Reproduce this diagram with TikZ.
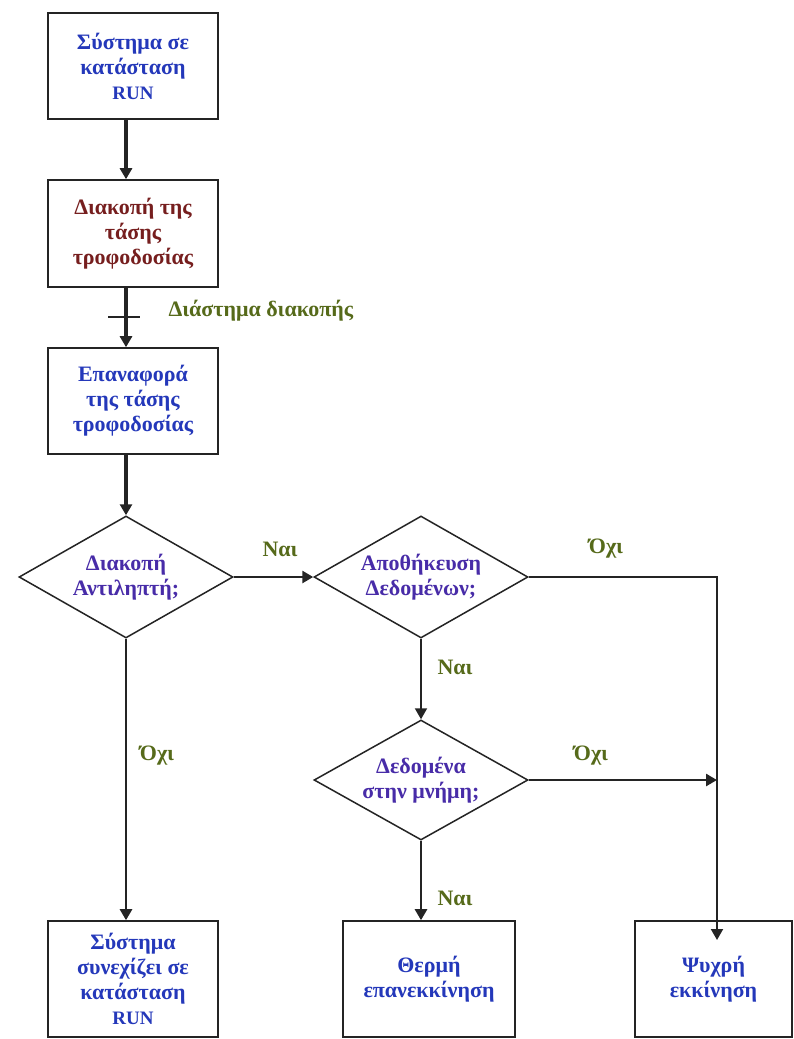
\documentclass[tikz,border=0pt]{standalone}
\usepackage{fontspec}
\setmainfont{Liberation Serif}
\usetikzlibrary{shapes.geometric,arrows.meta}
\definecolor{boxblue}{RGB}{36,56,186}
\definecolor{boxred}{RGB}{118,30,30}
\definecolor{qpurple}{RGB}{72,44,168}
\definecolor{lblgreen}{RGB}{86,106,26}
\definecolor{edge}{RGB}{36,36,36}
\newcommand{\latin}[1]{{\fontsize{19}{25}\selectfont #1}}
\begin{document}
\begin{tikzpicture}[x=1pt,y=-1pt,
  txt/.style={font=\bfseries\fontsize{22}{25}\selectfont,align=center},
  stepbox/.style={txt,draw=edge,line width=1.6pt,minimum width=170pt,inner sep=0pt,text=boxblue},
  dia/.style={draw=edge,line width=1.5pt,diamond,minimum width=214pt,minimum height=122pt,inner sep=0pt},
  qtext/.style={txt,text=qpurple},
  lbl/.style={font=\bfseries\fontsize{22}{25}\selectfont,text=lblgreen},
  tip/.style={-{Triangle[length=11pt,width=12pt]}},
  heavy/.style={draw=edge,line width=3.2pt},
  medium/.style={draw=edge,line width=2.6pt},
  light/.style={draw=edge,line width=1.9pt}]
\useasboundingbox[fill=white] (0,0) rectangle (794,1039);

% process boxes
\node[stepbox,minimum height=106pt] (run) at (133,66) {Σύστημα σε\\κατάσταση\\\latin{RUN}};
\node[stepbox,minimum height=107pt,text=boxred] (off) at (133,233.5) {Διακοπή της\\τάσης\\τροφοδοσίας};
\node[stepbox,minimum height=106pt] (on) at (133,401) {Επαναφορά\\της τάσης\\τροφοδοσίας};

% decisions
\node[dia] (d1) at (126,577) {};
\node[qtext] (d1t) at (d1) {Διακοπή\\Αντιληπτή;};
\node[dia] (d2) at (421,577) {};
\node[qtext] (d2t) at (d2) {Αποθήκευση\\Δεδομένων;};
\node[dia,minimum height=120pt] (d3) at (421,780) {};
\node[qtext] (d3t) at (d3) {Δεδομένα\\στην μνήμη;};

% outcomes
\node[stepbox,minimum height=116pt] (cont) at (133,979) {Σύστημα\\συνεχίζει σε\\κατάσταση\\\latin{RUN}};
\node[stepbox,minimum width=172pt,minimum height=116pt] (warm) at (429,979) {Θερμή\\επανεκκίνηση};
\node[stepbox,minimum width=157pt,minimum height=116pt] (cold) at (713.5,979) {Ψυχρή\\εκκίνηση};

% junctions on the right-hand line
\coordinate (cr) at (717,577);
\coordinate (cj) at (717,780);
\coordinate (cend) at (717,940);

% connectors
\draw[heavy,tip] (run.south -| d1) -- (off.north -| d1);
\draw[heavy,tip] (off.south -| d1) -- (on.north -| d1);
\draw[heavy,tip] (on.south -| d1) -- (d1.north);
\draw[line width=1.5pt,draw=edge] (108,317) -- (140,317);
\node[lbl,anchor=west] (gap) at (165,311) {Διάστημα διακοπής};

\draw[medium,tip] (d1.east) -- (d2.west);
\node[lbl] (y1) at (280,549) {Ναι};
\draw[light,tip] (d2.east) -- (cr) -- (cend);
\node[lbl] (n1) at (606,549) {Όχι};
\draw[light,tip] (d2.south) -- (d3.north);
\node[lbl] (y2) at (455,667) {Ναι};
\draw[medium,tip] (d3.east) -- (cj);
\node[lbl] (n2) at (591,756) {Όχι};
\draw[medium,tip] (d1.south) -- (d1.south |- cont.north);
\node[lbl] (n3) at (157,756) {Όχι};
\draw[medium,tip] (d3.south) -- (d3.south |- warm.north);
\node[lbl] (y3) at (455,898) {Ναι};
\end{tikzpicture}
\end{document}
